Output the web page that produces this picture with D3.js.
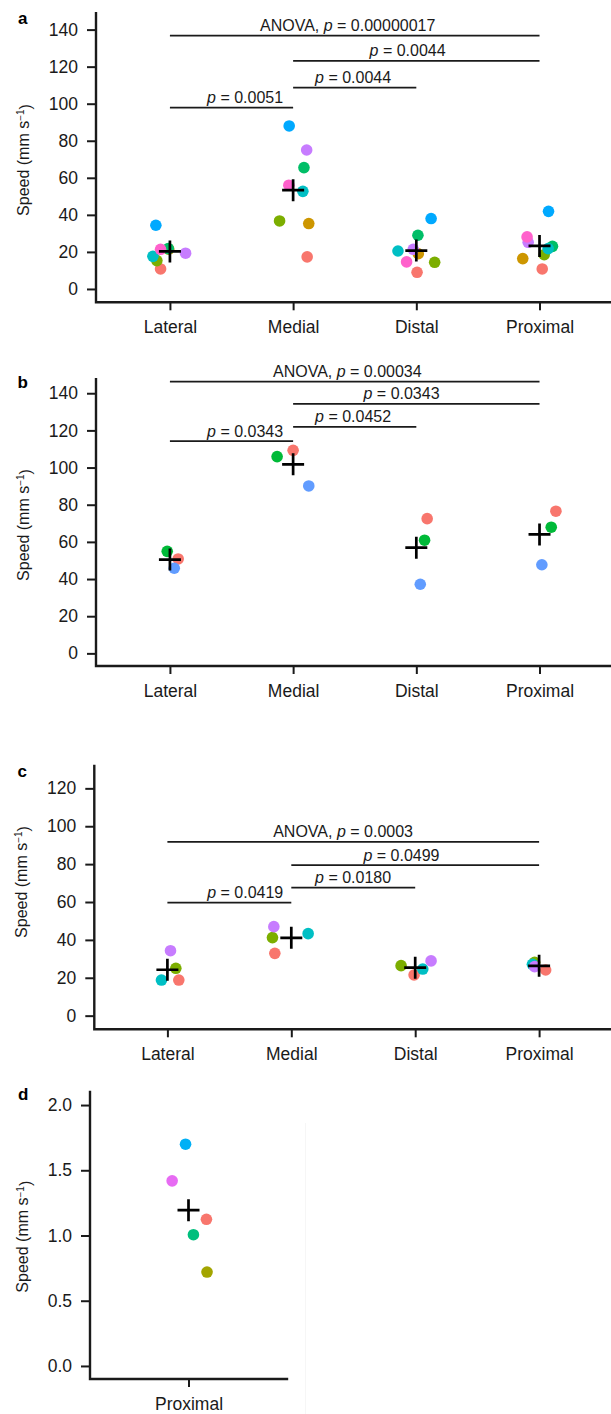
<!DOCTYPE html>
<html><head><meta charset="utf-8">
<script src="https://cdn.jsdelivr.net/npm/d3@7"></script>
<style>
body{margin:0;background:#fff}
svg{display:block}
text{font-family:"Liberation Sans",Arial,Helvetica,sans-serif}
</style>
</head><body>
<svg id="chart" width="611" height="1414"></svg>
<script>
// ---------------- DATA ----------------
const categories = ["Lateral","Medial","Distal","Proximal"];

// panel a (8 individuals)
const aColors = ["#F8766D","#CD9600","#7CAE00","#00BE67","#00BFC4","#00A9FF","#C77CFF","#FF61CC"];
const aValues = [
  [10.8,17.3,9.0,10.8],
  [21.5,35.3,19.0,16.4],
  [15.3,36.7,14.4,18.5],
  [21.8,65.5,29.0,23.0],
  [17.6,52.7,20.5,21.8],
  [34.4,88.0,38.0,41.9],
  [19.3,75.0,21.4,25.2],
  [21.4,56.0,14.6,28.1]];
const aJitter = [
  [-0.076,0.114,0.006,0.022],
  [-0.010,0.127,0.016,-0.136],
  [-0.106,-0.110,0.149,0.038],
  [-0.013,0.088,0.013,0.105],
  [-0.138,0.079,-0.149,0.070],
  [-0.114,-0.032,0.120,0.073],
  [0.127,0.110,-0.025,-0.092],
  [-0.076,-0.035,-0.079,-0.101]];
const aTicks = [0,20,40,60,80,100,120,140];
const aSigFrom = ["Lateral","Medial","Medial","Lateral"];
const aSigTo = ["Proximal","Proximal","Distal","Medial"];
const aSigHeight = [136.8,123.1,108.7,97.9];
const aSigP = ["0.00000017","0.0044","0.0044","0.0051"];
const aSigAnova = [true,false,false,false];
const aSigTextAt = [1.443,1.929,1.487,0.610];

// panel b (3 individuals)
const bColors = ["#F8766D","#00BA38","#619CFF"];
const bValues = [
  [50.8,109.3,72.5,76.5],
  [54.9,105.9,60.9,67.9],
  [45.8,90.1,37.2,47.7]];
const bJitter = [
  [0.067,0.000,0.088,0.133],
  [-0.022,-0.130,0.067,0.095],
  [0.035,0.127,0.032,0.019]];
const bTicks = [0,20,40,60,80,100,120,140];
const bSigFrom = ["Lateral","Medial","Medial","Lateral"];
const bSigTo = ["Proximal","Proximal","Distal","Medial"];
const bSigHeight = [146.3,134.3,121.9,114.2];
const bSigP = ["0.00034","0.0343","0.0452","0.0343"];
const bSigAnova = [true,false,false,false];
const bSigTextAt = [1.440,1.880,1.487,0.610];

// panel c (4 individuals)
const cColors = ["#F8766D","#7CAE00","#00BFC4","#C77CFF"];
const cValues = [
  [18.8,32.9,21.5,24.1],
  [25.0,41.2,26.4,28.2],
  [18.8,43.3,24.6,27.1],
  [34.3,47.0,28.9,25.9]];
const cJitter = [
  [0.092,-0.133,-0.009,0.053],
  [0.068,-0.152,-0.114,-0.036],
  [-0.048,0.136,0.061,-0.054],
  [0.025,-0.141,0.128,-0.036]];
const cTicks = [0,20,40,60,80,100,120];
const cSigFrom = ["Lateral","Medial","Medial","Lateral"];
const cSigTo = ["Proximal","Proximal","Distal","Medial"];
const cSigHeight = [91.7,79.5,67.6,59.7];
const cSigP = ["0.0003","0.0499","0.0180","0.0419"];
const cSigAnova = [true,false,false,false];
const cSigTextAt = [1.418,1.889,1.499,0.628];

// panel d (5 individuals, one category)
const dCategories = ["Proximal"];
const dColors = ["#F8766D","#A3A500","#00BF7D","#00B0F6","#E76BF3"];
const dValues = [[1.124],[0.720],[1.006],[1.700],[1.419]];
const dJitter = [[0.091],[0.094],[0.025],[-0.015],[-0.083]];
const dTicks = [0,0.5,1.0,1.5,2.0];

// ---------------- LAYOUT ----------------
const svg = d3.select("#chart");
const INK = "#1a1a1a";

function drawPanel(cfg, d) {
  const g = svg.append("g");
  const y = d3.scaleLinear().domain(cfg.yDomain).range([cfg.bottom, cfg.top]);
  const n = d.cats.length;
  const x = d3.scalePoint().domain(d.cats)
    .range([cfg.axisX, cfg.axisX + cfg.step * (n - 1 + 2 * cfg.pad)])
    .padding(cfg.pad);
  const step = x.step();

  const ya = g.append("g").attr("transform", `translate(${cfg.axisX},0)`)
    .call(d3.axisLeft(y).tickValues(d.ticks).tickSize(9).tickPadding(9).tickFormat(cfg.fmt));
  ya.select(".domain").remove();
  ya.selectAll(".tick line").attr("stroke", INK).attr("stroke-width", 2);
  ya.selectAll(".tick text").attr("fill", INK).style("font-size", "17.5px");

  const xa = g.append("g").attr("transform", `translate(0,${cfg.bottom})`)
    .call(d3.axisBottom(x).tickSize(8).tickPadding(10.5));
  xa.select(".domain").remove();
  xa.selectAll(".tick line").attr("stroke", INK).attr("stroke-width", 2);
  xa.selectAll(".tick text").attr("fill", INK).style("font-size", "17.5px");

  g.append("path")
    .attr("d", `M${cfg.axisX},${cfg.top}V${cfg.bottom}H${cfg.xEnd}`)
    .attr("fill", "none").attr("stroke", INK).attr("stroke-width", 2.4)
    .attr("stroke-linejoin", "miter").attr("stroke-linecap", "square");

  if (d.sigFrom) {
    d.sigFrom.forEach((f, i) => {
      const yy = y(d.sigHeight[i]);
      g.append("line")
        .attr("x1", x(f)).attr("x2", x(d.sigTo[i]))
        .attr("y1", yy).attr("y2", yy)
        .attr("stroke", INK).attr("stroke-width", 1.7);
      const t = g.append("text")
        .attr("x", x(d.cats[0]) + d.sigTextAt[i] * step)
        .attr("y", yy - 4.5)
        .attr("text-anchor", "middle")
        .attr("fill", INK)
        .style("font-size", "16px");
      if (d.sigAnova[i]) t.append("tspan").text("ANOVA, ");
      t.append("tspan").attr("font-style", "italic").text("p");
      t.append("tspan").text(" = " + d.sigP[i]);
    });
  }

  d.values.forEach((series, s) => {
    series.forEach((v, j) => {
      g.append("circle")
        .attr("cx", x(d.cats[j]) + d.jitter[s][j] * step)
        .attr("cy", y(v))
        .attr("r", 5.8)
        .attr("fill", d.colors[s]);
    });
  });

  d.cats.forEach((c, j) => {
    const m = d3.mean(d.values, s => s[j]);
    const cx = x(c), cy = y(m);
    g.append("path")
      .attr("d", `M${cx - 11},${cy}H${cx + 11}M${cx},${cy - 11}V${cy + 11}`)
      .attr("stroke", "#000").attr("stroke-width", 2.7).attr("fill", "none");
  });

  const tt = g.append("text")
    .attr("transform", `translate(${cfg.titleX},${cfg.titleY}) rotate(-90)`)
    .attr("text-anchor", "middle")
    .attr("fill", INK)
    .style("font-size", "16px");
  tt.append("tspan").text("Speed (mm s");
  tt.append("tspan").attr("dy", "-0.45em").style("font-size", "10px").text("\u22121");
  tt.append("tspan").attr("dy", "0.45em").text(")");

  g.append("text").attr("x", cfg.labelX).attr("y", cfg.labelY)
    .attr("fill", "#000").style("font-size", "17px").style("font-weight", "bold")
    .text(cfg.label);
}

const fmtInt = d3.format("d");
const fmt1 = d3.format(".1f");

drawPanel(
  {axisX:96, top:13.3, bottom:302.3, xEnd:611, yDomain:[-7.2,148.8], step:123.2, pad:0.6,
   fmt:fmtInt, titleX:28.5, titleY:160, label:"a", labelX:18, labelY:24},
  {cats:categories, colors:aColors, values:aValues, jitter:aJitter, ticks:aTicks,
   sigFrom:aSigFrom, sigTo:aSigTo, sigHeight:aSigHeight, sigP:aSigP, sigAnova:aSigAnova, sigTextAt:aSigTextAt});

drawPanel(
  {axisX:96, top:379.3, bottom:666, xEnd:611, yDomain:[-6.8,147.5], step:123.2, pad:0.6,
   fmt:fmtInt, titleX:28.5, titleY:525, label:"b", labelX:17.5, labelY:388},
  {cats:categories, colors:bColors, values:bValues, jitter:bJitter, ticks:bTicks,
   sigFrom:bSigFrom, sigTo:bSigTo, sigHeight:bSigHeight, sigP:bSigP, sigAnova:bSigAnova, sigTextAt:bSigTextAt});

drawPanel(
  {axisX:94.3, top:766, bottom:1029.3, xEnd:611, yDomain:[-7.2,131.8], step:123.9, pad:0.59,
   fmt:fmtInt, titleX:26.5, titleY:882, label:"c", labelX:17.5, labelY:777},
  {cats:categories, colors:cColors, values:cValues, jitter:cJitter, ticks:cTicks,
   sigFrom:cSigFrom, sigTo:cSigTo, sigHeight:cSigHeight, sigP:cSigP, sigAnova:cSigAnova, sigTextAt:cSigTextAt});

drawPanel(
  {axisX:90, top:1092, bottom:1379, xEnd:287, yDomain:[-0.1,2.1], step:197, pad:0.5,
   fmt:fmt1, titleX:28.3, titleY:1236.7, label:"d", labelX:18, labelY:1100},
  {cats:dCategories, colors:dColors, values:dValues, jitter:dJitter, ticks:dTicks});

svg.append("line").attr("x1",305.5).attr("x2",305.5).attr("y1",1123).attr("y2",1414)
  .attr("stroke","#f6f6f6").attr("stroke-width",1);
</script>
</body></html>
